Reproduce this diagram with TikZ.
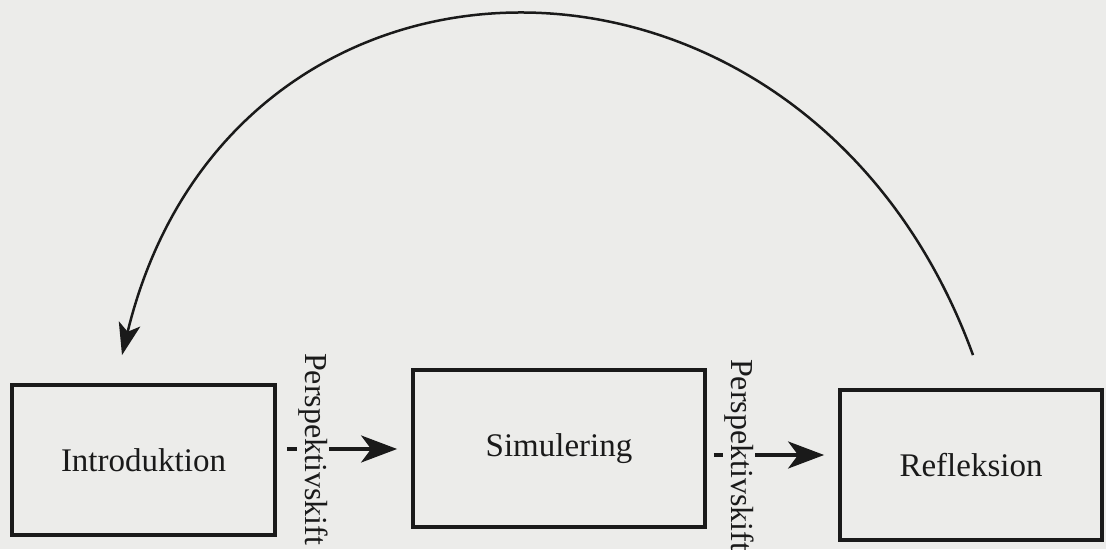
\documentclass[tikz,border=0pt]{standalone}
\usepackage{fontspec}
\setmainfont{Liberation Serif}
\usepackage{tikz}
\usetikzlibrary{arrows.meta,positioning,calc}
\definecolor{paper}{HTML}{ECECEA}
\definecolor{ink}{HTML}{1A1A1A}
\tikzset{
  stage/.style={draw=ink, line width=3.8pt, fill=none, inner sep=0pt,
                font=\fontsize{33}{39}\selectfont, text=ink},
  ar/.style={-{Stealth[length=36pt,width=27pt,inset=10pt]}, line width=3.4pt, draw=ink},
  dashln/.style={line width=3.4pt, draw=ink},
  lbl/.style={rotate=-90, inner sep=1.5pt, text=ink,
              font=\fontsize{32}{38}\selectfont},
  back/.style={-{Stealth[length=32pt,width=22pt,inset=8pt]}, line width=2.5pt, draw=ink},
}

\begin{document}
\begin{tikzpicture}[x=1pt,y=1pt]
  \fill[paper] (0,0) rectangle (1106,549);
  \useasboundingbox (0,0) rectangle (1106,549);

  % --- faser ---
  \node[stage, minimum width=263pt, minimum height=150pt] (intro) at (143.5,89) {Introduktion};
  \node[stage, minimum width=292pt, minimum height=157pt] (sim) at (559,100.5) {Simulering};
  \node[stage, minimum width=262pt, minimum height=150pt] (refl) at (971,84) {Refleksion};

  % --- perspektivskift ---
  \node[lbl] (p1) at (313,100) {Perspektivskift};
  \node[lbl] (p2) at (739,94) {Perspektivskift};

  \draw[dashln, shorten <=10pt] (intro.east |- p1) -- (p1.south);
  \draw[ar, shorten >=14pt] (p1.north) -- (sim.west |- p1);
  \draw[dashln, shorten <=7pt] (sim.east |- p2) -- (p2.south);
  \draw[ar, shorten >=14pt] (p2.north) -- (refl.west |- p2);

  % --- tilbage til introduktion ---
  \coordinate (from) at ([xshift=2pt,yshift=33pt]refl.north);
  \coordinate (to) at ([xshift=-21.5pt,yshift=28pt]intro.north);
  \draw[back] (from) .. controls +(-165,453) and +(110,453) .. (to);
\end{tikzpicture}
\end{document}
